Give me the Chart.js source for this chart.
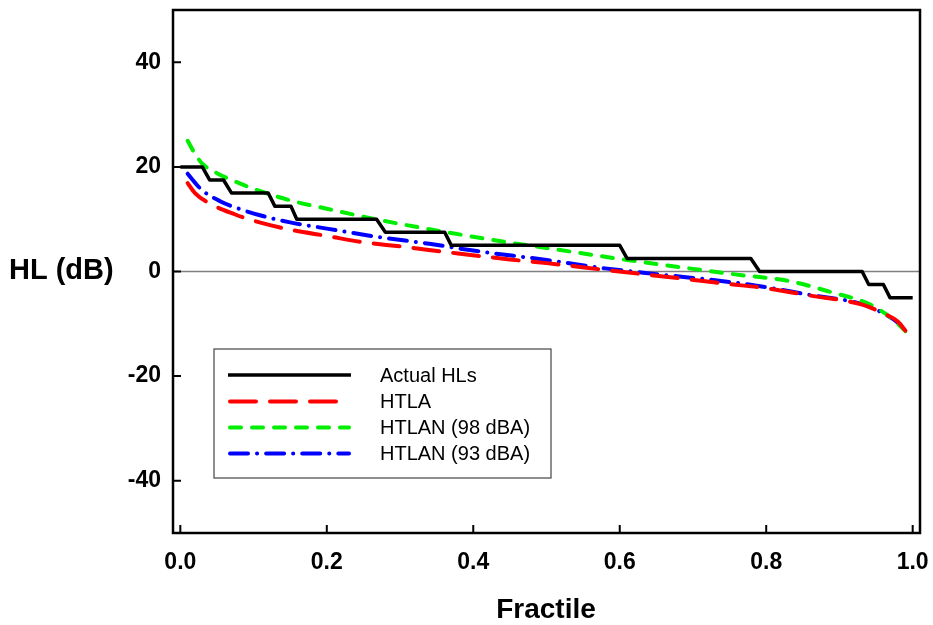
<!DOCTYPE html>
<html>
<head>
<meta charset="utf-8">
<script src="https://cdn.jsdelivr.net/npm/chart.js@4/dist/chart.umd.min.js"></script>
<style>
html,body{margin:0;padding:0;background:#fff;}
#wrap{width:933px;height:625px;position:relative;}
</style>
</head>
<body>
<div id="wrap"><canvas id="c"></canvas></div>
<script>
// ---- data ----
const actualX = [0.0, 0.03, 0.04, 0.059, 0.07, 0.12, 0.129, 0.151, 0.159, 0.268, 0.28, 0.361, 0.37, 0.6, 0.61, 0.779, 0.791, 0.931, 0.94, 0.96, 0.969, 1.0];
const actualY = [20, 20, 17.5, 17.5, 15, 15, 12.5, 12.5, 10, 10, 7.5, 7.5, 5, 5, 2.5, 2.5, 0, 0, -2.5, -2.5, -5, -5];

const htlaX = [0.01, 0.02, 0.04, 0.075, 0.1, 0.15, 0.2, 0.25, 0.3, 0.37, 0.45, 0.5, 0.58, 0.65, 0.75, 0.8, 0.86, 0.93, 0.96, 0.98, 0.99];
const htlaY = [16.9, 15.0, 13.0, 10.9, 9.7, 8.0, 6.8, 5.6, 4.8, 3.6, 2.3, 1.6, 0.3, -0.8, -2.4, -3.2, -4.6, -6.3, -8.0, -9.6, -11.3];

const htlan98X = [0.01, 0.02, 0.03, 0.05, 0.075, 0.1, 0.15, 0.2, 0.27, 0.36, 0.45, 0.5, 0.6, 0.7, 0.76, 0.83, 0.89, 0.94, 0.97, 0.99];
const htlan98Y = [25, 22.5, 20.6, 18.8, 17.2, 15.8, 13.6, 12.0, 9.9, 7.6, 5.5, 4.5, 2.4, 0.5, -0.6, -1.8, -4.0, -6.2, -8.8, -11.4];

const htlan93X = [0.01, 0.02, 0.03, 0.055, 0.08, 0.11, 0.15, 0.2, 0.27, 0.34, 0.4, 0.5, 0.58, 0.65, 0.75, 0.8, 0.86, 0.93, 0.96, 0.98, 0.99];
const htlan93Y = [18.7, 17.0, 15.5, 13.4, 12.0, 10.7, 9.4, 8.2, 6.6, 5.3, 4.0, 2.2, 0.6, -0.5, -2.0, -3.0, -4.5, -6.2, -8.0, -9.8, -11.4];

const seriesLabels = ["Actual HLs", "HTLA", "HTLAN (98 dBA)", "HTLAN (93 dBA)"];
const xTicks = [0, 0.2, 0.4, 0.6, 0.8, 1.0];
const yTicks = [-40, -20, 0, 20, 40];
const xTitle = "Fractile";
const yTitle = "HL (dB)";

function pts(xs, ys){ return xs.map((x,i)=>({x:x, y:ys[i]})); }

const styles = [
  {color:'#000000', width:3.5, dash:[], cap:'butt'},
  {color:'#ff0000', width:4, dash:[26,14], cap:'round'},
  {color:'#00ee00', width:4, dash:[11,11], cap:'round'},
  {color:'#0000ff', width:4, dash:[18,9,0.1,9], cap:'round'}
];

const dataSets = [pts(actualX, actualY), pts(htlaX, htlaY), pts(htlan98X, htlan98Y), pts(htlan93X, htlan93Y)];

const datasets = dataSets.map((d,i)=>({
  label: seriesLabels[i],
  data: d,
  borderColor: styles[i].color,
  borderWidth: styles[i].width,
  borderDash: styles[i].dash,
  borderCapStyle: styles[i].cap,
  borderJoinStyle: 'round',
  pointRadius: 0,
  fill: false,
  tension: i === 0 ? 0 : 0.4,
  cubicInterpolationMode: i === 0 ? 'default' : 'monotone'
}));

const tickFont = {family: '"Liberation Sans", Arial, sans-serif', size: 23, weight: 'bold'};

function noPad(s){ s.paddingTop = 0; s.paddingBottom = 0; s.paddingLeft = 0; s.paddingRight = 0; }

const decor = {
  id: 'decor',
  beforeDatasetsDraw(chart){
    const {ctx, chartArea:a, scales:{y}} = chart;
    const y0 = y.getPixelForValue(0);
    ctx.save();
    ctx.strokeStyle = '#808080';
    ctx.lineWidth = 1.5;
    ctx.beginPath();
    ctx.moveTo(a.left, y0); ctx.lineTo(a.right, y0);
    ctx.stroke();
    ctx.restore();
  },
  afterDraw(chart){
    const {ctx, chartArea:a, scales:{x, y}} = chart;
    ctx.save();
    // frame
    ctx.strokeStyle = '#000';
    ctx.lineWidth = 2.5;
    ctx.strokeRect(a.left, a.top, a.right - a.left, a.bottom - a.top);
    // inside ticks
    ctx.lineWidth = 2;
    ctx.beginPath();
    xTicks.forEach(v=>{ const px = x.getPixelForValue(v); ctx.moveTo(px, a.bottom); ctx.lineTo(px, a.bottom - 8); });
    yTicks.forEach(v=>{ const py = y.getPixelForValue(v); ctx.moveTo(a.left, py); ctx.lineTo(a.left + 8, py); });
    ctx.stroke();
    // axis titles
    ctx.fillStyle = '#000';
    ctx.font = 'bold 28px "Liberation Sans", Arial, sans-serif';
    ctx.textAlign = 'center';
    ctx.textBaseline = 'alphabetic';
    ctx.fillText(xTitle, 546, 618);
    ctx.font = 'bold 29px "Liberation Sans", Arial, sans-serif';
    ctx.textAlign = 'left';
    ctx.textBaseline = 'middle';
    ctx.fillText(yTitle, 9, 271);
    // legend
    const bx = 214, by = 349, bw = 337, bh = 129;
    ctx.fillStyle = '#fff';
    ctx.fillRect(bx, by, bw, bh);
    ctx.strokeStyle = '#444';
    ctx.lineWidth = 1.2;
    ctx.strokeRect(bx, by, bw, bh);
    const rows = [375, 401.5, 427.5, 453.5];
    ctx.font = '20px "Liberation Sans", Arial, sans-serif';
    ctx.textBaseline = 'middle';
    ctx.textAlign = 'left';
    chart.data.datasets.forEach((ds,i)=>{
      ctx.save();
      ctx.strokeStyle = ds.borderColor;
      ctx.lineWidth = ds.borderWidth;
      ctx.lineCap = styles[i].cap;
      ctx.setLineDash(ds.borderDash);
      const x1 = styles[i].cap === 'round' ? 230 : 228;
      const x2 = styles[i].cap === 'round' ? 349 : 351;
      ctx.beginPath();
      ctx.moveTo(x1, rows[i]); ctx.lineTo(x2, rows[i]);
      ctx.stroke();
      ctx.restore();
      ctx.fillStyle = '#000';
      ctx.fillText(ds.label, 380, rows[i] + 1);
    });
    ctx.restore();
  }
};

new Chart(document.getElementById('c'), {
  type: 'line',
  data: {datasets},
  options: {
    responsive: true,
    maintainAspectRatio: false,
    animation: false,
    events: [],
    layout: {padding: {top: 10, right: 13, left: 0, bottom: 0}},
    plugins: {legend: {display: false}, tooltip: {enabled: false}, title: {display: false}},
    scales: {
      x: {
        type: 'linear', min: -0.01, max: 1.01,
        grid: {display: false, drawTicks: false},
        border: {display: false},
        afterBuildTicks: s => { s.ticks = xTicks.map(v=>({value:v})); },
        afterFit: s => { s.height = 92; noPad(s); },
        ticks: {color:'#000', font: tickFont, padding: 16, maxRotation: 0, autoSkip: false,
          callback: v => Number(v).toFixed(1)}
      },
      y: {
        type: 'linear', min: -50, max: 50,
        grid: {display: false, drawTicks: false},
        border: {display: false},
        afterBuildTicks: s => { s.ticks = yTicks.map(v=>({value:v})); },
        afterFit: s => { s.width = 173; noPad(s); },
        ticks: {color:'#000', font: tickFont, padding: 12, autoSkip: false,
          callback: v => String(v)}
      }
    }
  },
  plugins: [decor]
});
</script>
</body>
</html>
